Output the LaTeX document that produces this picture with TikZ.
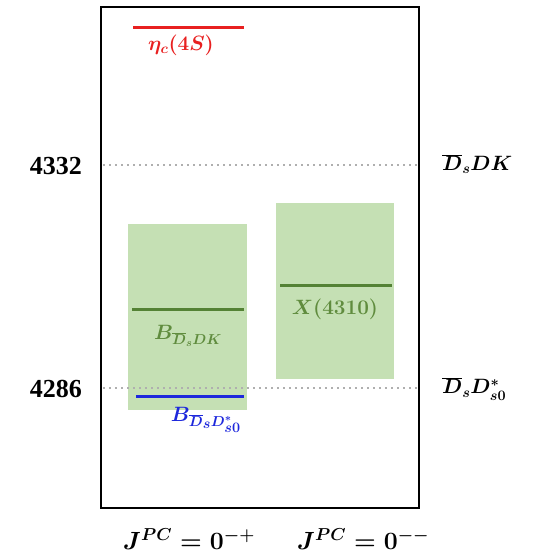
\documentclass[tikz,border=0pt]{standalone}
\usepackage{fontspec}
\newfontfamily\timesf{Liberation Serif}
\definecolor{lvred}{RGB}{232,32,32}
\definecolor{boxgreen}{RGB}{197,224,180}
\definecolor{lvgreen}{RGB}{84,130,53}
\definecolor{txgreen}{RGB}{96,140,62}
\definecolor{lvblue}{RGB}{30,40,220}
\definecolor{dotgray}{RGB}{175,175,175}
\newcommand{\Db}{\overline{D}}
\tikzset{
  frame/.style={draw=black, line width=2.2pt},
  band/.style={fill=boxgreen, draw=none},
  threshold/.style={draw=dotgray, line width=2.4pt, dash pattern=on 2.4pt off 3.6pt},
  level/.style={line width=3pt},
  lab/.style={inner sep=0pt, font=\fontsize{22}{26}\selectfont\boldmath},
  num/.style={inner sep=0pt, font=\fontsize{26}{30}\selectfont\timesf\bfseries},
}
\begin{document}
\begin{tikzpicture}[x=1pt,y=-1pt]
\useasboundingbox (0,0) rectangle (541,557);
% green bands
\path[band] (128,224) rectangle (247,410);
\path[band] (276,203) rectangle (394,379);
% thresholds
\coordinate (t1a) at (103,165); \coordinate (t1b) at (418,165);
\coordinate (t2a) at (103,388); \coordinate (t2b) at (418,388);
\draw[threshold] (t1a) -- (t1b);
\draw[threshold] (t2a) -- (t2b);
% frame
\draw[frame] (101,7) rectangle (419,508);
% levels
\coordinate (ra) at (133,27); \coordinate (rb) at (244,27);
\draw[level, lvred] (ra) -- (rb);
\coordinate (ga) at (132,309); \coordinate (gb) at (244,309);
\draw[level, lvgreen] (ga) -- (gb);
\coordinate (ba) at (136,396); \coordinate (bb) at (244,396);
\draw[level, lvblue] (ba) -- (bb);
\coordinate (xa) at (280,285); \coordinate (xb) at (392,285);
\draw[level, lvgreen] (xa) -- (xb);
% labels
\node[lab, text=lvred] (etac) at (181,45) {$\eta_c(4S)$};
\node[lab, text=txgreen] (bdk) at (188,336) {$B_{\Db_s DK}$};
\node[lab, text=lvblue] (bds) at (206,420) {$B_{\Db_{\scriptstyle s} D^*_{\scriptstyle s0}}$};
\node[lab, text=txgreen] (x4310) at (335,309) {$X(4310)$};
\node[num, anchor=east] (n4332) at (82,166) {4332};
\node[num, anchor=east] (n4286) at (82,389) {4286};
\node[lab, anchor=west] (thr1) at (442,164) {$\Db_s DK$};
\node[lab, anchor=west] (thr2) at (442,389) {$\Db_s D^*_{s0}$};
\node[lab, font=\fontsize{25}{29}\selectfont\boldmath] (jp1) at (189,539) {$J^{PC}=0^{-+}$};
\node[lab, font=\fontsize{25}{29}\selectfont\boldmath] (jp2) at (363,539) {$J^{PC}=0^{--}$};
\end{tikzpicture}
\end{document}
